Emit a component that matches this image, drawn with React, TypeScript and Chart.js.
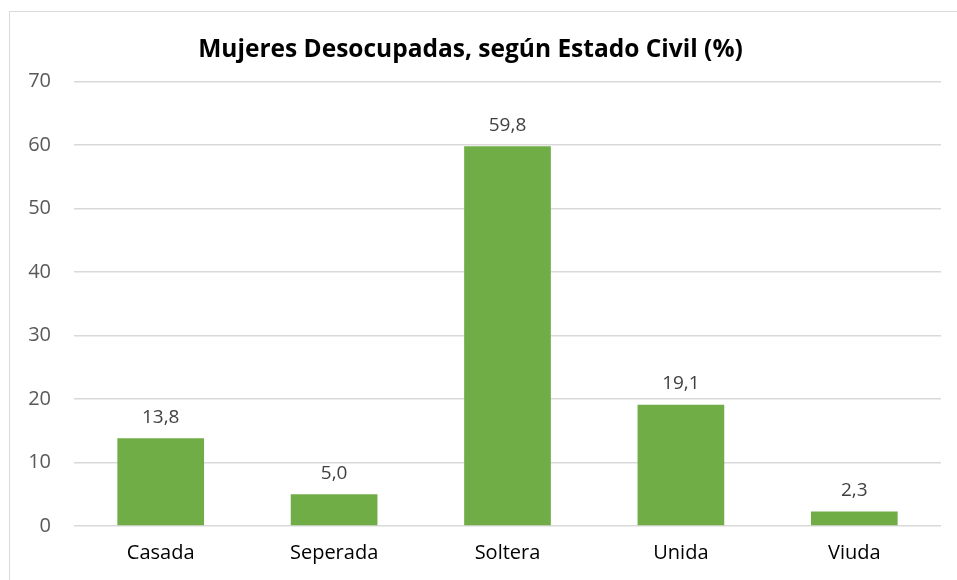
import React, { useEffect, useRef } from "react";
import { Chart, registerables } from "chart.js";

Chart.register(...registerables);

const TITLE = "Mujeres Desocupadas, según Estado Civil (%)";
const categories = ["Casada", "Seperada", "Soltera", "Unida", "Viuda"];
const values = [13.8, 5.0, 59.8, 19.1, 2.3];
const yTicks = [0, 10, 20, 30, 40, 50, 60, 70];

const FONT = "'Open Sans', 'Noto Sans', sans-serif";

const dataLabels = {
  id: "dataLabels",
  afterDatasetsDraw(chart: any) {
    const ctx = chart.ctx;
    const meta = chart.getDatasetMeta(0);
    ctx.save();
    ctx.font = `19px ${FONT}`;
    ctx.fillStyle = "#404040";
    ctx.textAlign = "center";
    ctx.textBaseline = "middle";
    meta.data.forEach((bar: any, i: number) => {
      ctx.fillText(values[i].toFixed(1).replace(".", ","), bar.x, bar.y - 21);
    });
    ctx.restore();
  },
};

export default function App() {
  const ref = useRef<HTMLCanvasElement>(null);
  useEffect(() => {
    const chart = new Chart(ref.current!, {
      type: "bar",
      data: {
        labels: categories,
        datasets: [
          {
            data: values,
            backgroundColor: "#70AD47",
            barPercentage: 1,
            categoryPercentage: 0.5,
          },
        ],
      },
      options: {
        animation: false,
        responsive: false,
        layout: { padding: { left: 0, right: 16, top: 0, bottom: 0 } },
        plugins: {
          legend: { display: false },
          tooltip: { enabled: false },
          title: {
            display: true,
            text: TITLE,
            color: "#000000",
            font: { family: FONT, size: 24.5, weight: "bold" },
            padding: { top: 35, bottom: 17 },
          },
        },
        scales: {
          x: {
            grid: { display: false, drawTicks: false },
            border: { display: false },
            ticks: { color: "#000000", font: { family: FONT, size: 20 }, padding: 15 },
            afterFit(scale: any) {
              scale.height = 54;
            },
          },
          y: {
            min: 0,
            max: 70,
            afterBuildTicks(scale: any) {
              scale.ticks = yTicks.map((v) => ({ value: v }));
            },
            grid: { color: "#D9D9D9", lineWidth: 1.5, drawTicks: false },
            border: { display: false },
            ticks: { color: "#595959", font: { family: FONT, size: 20 }, padding: 23 },
            afterFit(scale: any) {
              scale.width = 74;
            },
          },
        },
      },
      plugins: [dataLabels],
    });
    return () => chart.destroy();
  }, []);
  return (
    <div style={{ position: "fixed", left: 0, top: 0, width: 957, height: 580, overflow: "hidden", background: "#fff" }}>
      <div style={{ position: "absolute", left: 9, top: 11, width: 980, height: 620, border: "1px solid #D9D9D9" }} />
      <canvas ref={ref} width={957} height={580} style={{ position: "absolute", left: 0, top: 0 }} />
    </div>
  );
}
